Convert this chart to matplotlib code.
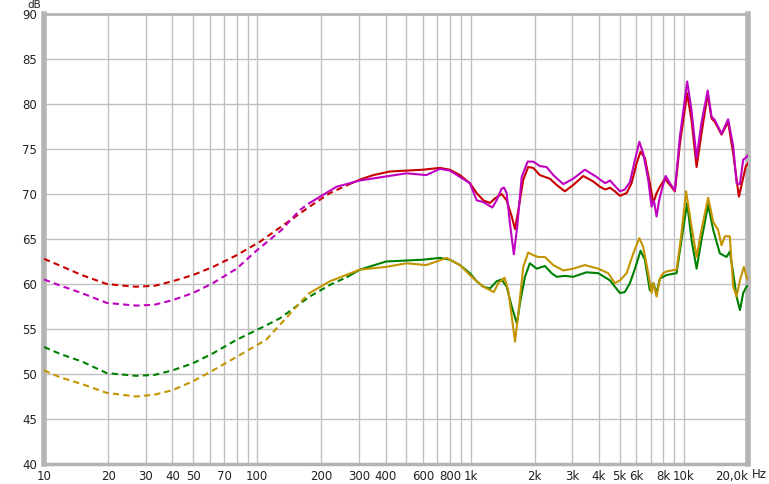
import matplotlib
matplotlib.use("Agg")
import matplotlib.pyplot as plt
from matplotlib.ticker import FixedLocator, NullFormatter

# ---- data (frequency in Hz, level in dB) ----
red_f = [10, 12, 15, 19.7, 24, 27, 33, 40, 50, 62, 80, 103, 130, 176, 219, 265,
         303, 350, 419, 500, 598, 719, 800, 892, 993, 1069, 1148, 1233, 1300, 1399,
         1477, 1560, 1616, 1675, 1767, 1864, 1968, 2114, 2355, 2535, 2771, 3030,
         3377, 3758, 4045, 4282, 4508, 4750, 5018, 5395, 5690, 6005, 6270, 6570,
         6930, 7193, 7453, 7727, 8150, 8610, 9083, 9590, 10370, 10870, 11480,
         12100, 12940, 13490, 13990, 15030, 16140, 17050, 18130, 19540, 20000]
red_db = [62.8, 62.0, 61.0, 60.0, 59.8, 59.7, 59.8, 60.3, 61.0, 61.9, 63.2, 64.7, 66.4, 68.6, 70.1, 71.0,
          71.6, 72.1, 72.5, 72.6, 72.7, 72.9, 72.7, 72.1, 71.2, 70.1, 69.3, 69.0, 69.5, 70.0,
          69.3, 67.5, 66.1, 68.2, 71.6, 73.0, 72.9, 72.1, 71.7, 71.0, 70.3, 71.0,
          72.0, 71.4, 70.8, 70.5, 70.7, 70.3, 69.8, 70.1, 71.2, 73.4, 74.7, 74.0,
          71.2, 69.0, 70.1, 70.8, 71.7, 71.0, 70.3, 75.6, 81.2, 78.2, 73.0,
          76.7, 81.1, 78.4, 78.0, 76.6, 78.0, 74.5, 69.7, 73.1, 73.4]

mag_f = [10, 12, 15, 19.7, 27, 33, 40, 50, 62, 80, 98, 130, 158, 176, 235, 303,
         389, 501, 620, 719, 800, 892, 993, 1069, 1148, 1265, 1325, 1399, 1436,
         1477, 1531, 1596, 1656, 1738, 1853, 1968, 2114, 2273, 2443, 2722, 3030,
         3436, 3898, 4045, 4282, 4508, 4750, 5018, 5286, 5589, 5902, 6190, 6455,
         6810, 7060, 7240, 7453, 7665, 7870, 8220, 8610, 9083, 9590, 10370, 10870,
         11480, 12100, 12940, 13490, 13990, 15030, 16140, 17050, 17680, 18330,
         18990, 19680, 20000]
mag_db = [60.5, 59.8, 59.0, 57.9, 57.6, 57.7, 58.2, 59.0, 60.1, 61.7, 63.6, 66.0, 68.2, 69.0, 70.8, 71.5,
          71.9, 72.3, 72.1, 72.8, 72.6, 71.9, 71.2, 69.3, 69.1, 68.5, 69.3, 70.6, 70.7,
          70.1, 66.7, 63.3, 66.4, 71.9, 73.6, 73.6, 73.1, 73.0, 72.1, 71.1, 71.7,
          72.7, 71.9, 71.6, 71.2, 71.5, 70.9, 70.3, 70.5, 71.3, 73.8, 75.8, 74.5,
          71.6, 68.6, 69.3, 67.5, 69.3, 70.4, 72.0, 71.2, 70.4, 76.4, 82.5, 79.3,
          74.0, 77.9, 81.5, 78.6, 78.2, 76.7, 78.3, 75.3, 71.2, 71.1,
          73.8, 74.1, 74.3]

grn_f = [10, 12, 15, 19.7, 27, 33, 40, 50, 62, 80, 110, 128, 176, 219, 265, 303,
         402, 598, 719, 800, 892, 993, 1069, 1148, 1233, 1325, 1399, 1477, 1560,
         1650, 1706, 1800, 1897, 2042, 2233, 2399, 2535, 2771, 3030, 3498, 3970,
         4508, 4750, 5018, 5286, 5589, 5902, 6270, 6570, 6930, 7193, 7453, 7727,
         8300, 9250, 9750, 10370, 10870, 11480, 12100, 13010, 13740, 14760, 15850,
         16430, 17050, 17680, 18330, 18990, 19680, 20000]
grn_db = [53.0, 52.2, 51.4, 50.1, 49.8, 49.9, 50.4, 51.2, 52.3, 53.8, 55.4, 56.2, 58.6, 59.9, 60.8, 61.6,
          62.5, 62.7, 62.9, 62.7, 62.1, 61.2, 60.3, 59.7, 59.5, 60.3, 60.5, 59.7, 57.5,
          55.6, 57.9, 60.8, 62.3, 61.7, 62.0, 61.2, 60.8, 60.9, 60.8, 61.3, 61.2,
          60.4, 59.7, 59.0, 59.1, 60.1, 61.7, 63.7, 62.7, 59.3, 60.1, 59.0, 60.6,
          61.0, 61.2, 64.9, 69.0, 64.9, 61.7, 64.9, 68.8, 66.0, 63.4, 63.0,
          63.6, 61.2, 58.6, 57.1, 59.0, 59.7, 59.8]

gld_f = [10, 12, 15, 19.7, 27, 33, 40, 50, 62, 80, 110, 140, 158, 176, 219, 303,
         402, 501, 620, 773, 892, 993, 1069, 1148, 1285, 1350, 1443, 1502, 1560,
         1616, 1675, 1767, 1864, 1968, 2076, 2233, 2443, 2722, 3030, 3436, 3970,
         4420, 4750, 5018, 5395, 5795, 6190, 6455, 6810, 7060, 7193, 7453, 7727,
         8000, 8300, 9250, 9750, 10250, 10870, 11480, 12100, 13010, 13740, 14490,
         15030, 15570, 16430, 17050, 17680, 18330, 19130, 19680, 20000]
gld_db = [50.4, 49.6, 48.9, 47.9, 47.5, 47.7, 48.2, 49.2, 50.4, 51.9, 53.8, 56.5, 57.9, 59.0, 60.3, 61.6,
          61.9, 62.3, 62.1, 62.9, 62.1, 61.0, 60.3, 59.7, 59.1, 60.1, 60.7, 59.3, 56.4,
          53.6, 56.7, 61.9, 63.5, 63.2, 63.0, 63.0, 62.1, 61.5, 61.7, 62.1, 61.7,
          61.2, 60.1, 60.4, 61.2, 63.4, 65.1, 64.1, 61.2, 59.0, 60.1, 58.6, 60.6,
          61.2, 61.4, 61.6, 65.6, 70.3, 66.4, 63.0, 66.0, 69.6, 66.9, 66.0,
          64.3, 65.3, 65.3, 59.7, 58.6, 60.4, 61.9, 60.8, 60.5]

# below these frequencies the curves are drawn dashed
red_split = 265
mag_split = 176
grn_split = 265
gld_split = 176

x_ticks = [10, 20, 30, 40, 50, 70, 100, 200, 300, 400, 600, 800,
           1000, 2000, 3000, 4000, 5000, 6000, 8000, 10000, 20000]
x_labels = ["10", "20", "30", "40", "50", "70", "100", "200", "300", "400", "600", "800",
            "1k", "2k", "3k", "4k", "5k", "6k", "8k", "10k", "20,0k"]
y_ticks = [40, 45, 50, 55, 60, 65, 70, 75, 80, 85, 90]


def draw_curve(ax, f, db, split, color):
    lo_f = [x for x in f if x <= split]
    lo_db = [y for x, y in zip(f, db) if x <= split]
    hi_f = [x for x in f if x >= split]
    hi_db = [y for x, y in zip(f, db) if x >= split]
    ax.plot(lo_f, lo_db, color=color, lw=1.5, ls=(0, (3, 2)), zorder=3)
    ax.plot(hi_f, hi_db, color=color, lw=1.5, zorder=3)


fig = plt.figure(figsize=(7.69, 4.84), dpi=100)
ax = fig.add_axes([44 / 769, 20 / 484, 704 / 769, 450 / 484])

draw_curve(ax, red_f, red_db, red_split, "#c80000")
draw_curve(ax, mag_f, mag_db, mag_split, "#c000c0")
draw_curve(ax, grn_f, grn_db, grn_split, "#008000")
draw_curve(ax, gld_f, gld_db, gld_split, "#c39400")

ax.set_xscale("log")
ax.set_xlim(10, 20000)
ax.set_ylim(40, 90)

ax.xaxis.set_major_locator(FixedLocator(x_ticks))
ax.xaxis.set_minor_locator(FixedLocator(
    [m * d for d in (10, 100, 1000, 10000) for m in range(1, 10) if m * d <= 20000]))
ax.xaxis.set_minor_formatter(NullFormatter())
ax.set_xticklabels(x_labels)
ax.set_yticks(y_ticks)

ax.grid(which="both", axis="x", color="#c0c0c0", lw=1)
ax.grid(which="major", axis="y", color="#c0c0c0", lw=1)
ax.set_axisbelow(True)

ax.tick_params(which="both", length=0, labelsize=8.5, colors="#222222")
ax.tick_params(axis="x", pad=4)
ax.tick_params(axis="y", pad=5)
# last x label sits left of the 20k line, followed by the unit
ax.get_xticklabels()[-1].set_horizontalalignment("right")

for side, lw in (("left", 4), ("right", 4), ("top", 2), ("bottom", 2.5)):
    ax.spines[side].set_color("#b4b4b4")
    ax.spines[side].set_linewidth(lw)

fig.text(752 / 769, 1 - 474 / 484, "Hz", fontsize=8.5, color="#222222", va="center", ha="left")
fig.text(34 / 769, 1 - 0.5 / 484, "dB", fontsize=7.5, color="#222222", va="top", ha="center")

fig.savefig("out.png", dpi=100)
